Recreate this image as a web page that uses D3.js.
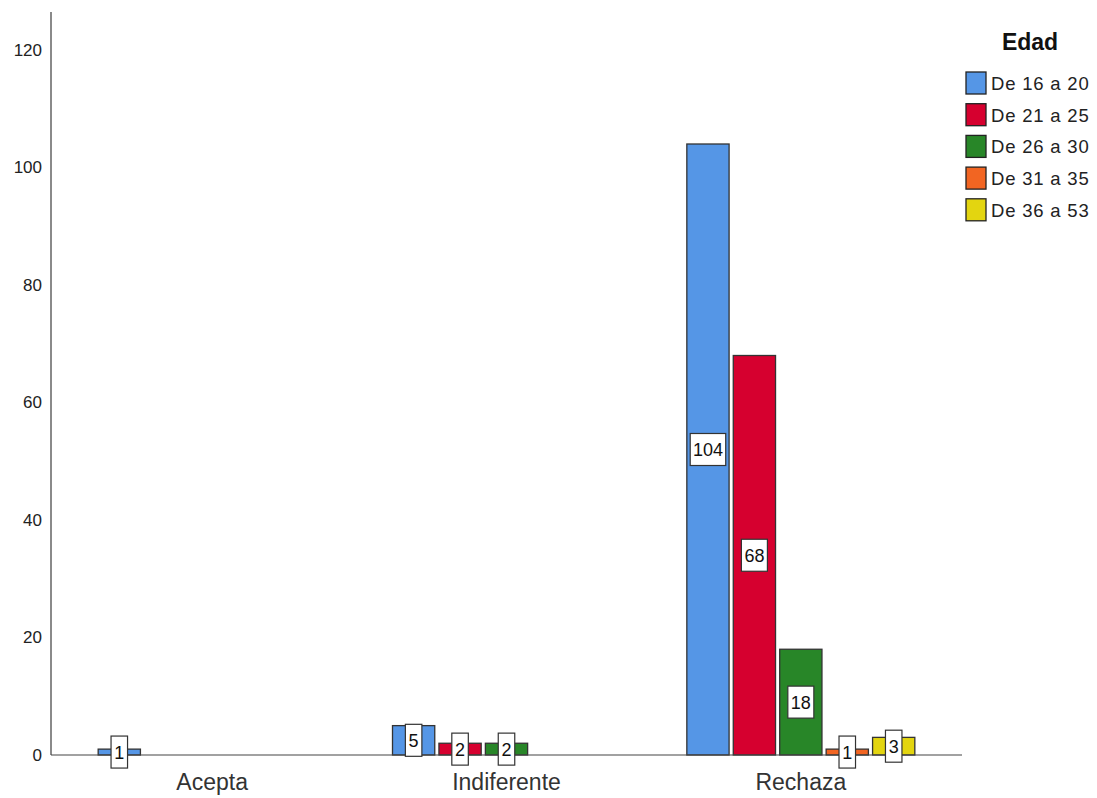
<!DOCTYPE html>
<html>
<head>
<meta charset="utf-8">
<script src="https://cdn.jsdelivr.net/npm/d3@7"></script>
<style>
  body { margin: 0; background: #fff; }
  svg { display: block; font-family: "Liberation Sans", Arial, sans-serif; }
</style>
</head>
<body>
<svg id="chart" width="1097" height="798"></svg>
<script>
const categories = ["Acepta", "Indiferente", "Rechaza"];
const series = ["De 16 a 20", "De 21 a 25", "De 26 a 30", "De 31 a 35", "De 36 a 53"];
const colors = ["#5596e6", "#d6002f", "#288628", "#f26522", "#e3d510"];
// values[series][category]; null = no bar
const s1620 = [1, 5, 104];
const s2125 = [null, 2, 68];
const s2630 = [null, 2, 18];
const s3135 = [null, null, 1];
const s3653 = [null, null, 3];
const values = [s1620, s2125, s2630, s3135, s3653];
const yTicks = [0, 20, 40, 60, 80, 100, 120];
const legendTitle = "Edad";

const svg = d3.select("#chart");
const x0 = 51, xEnd = 962, yBase = 755;

const y = d3.scaleLinear().domain([0, 120]).range([yBase, 50]);
const xCat = d3.scaleBand().domain(categories).range([65, 948]).padding(0);
const xSer = d3.scaleBand().domain(series).range([-114, 114]).paddingInner(0.09);

// y axis line
svg.append("line").attr("x1", x0).attr("x2", x0).attr("y1", 12).attr("y2", yBase)
  .attr("stroke", "#8a8a8a").attr("stroke-width", 2);

// y tick labels
const yAxis = d3.axisLeft(y).tickValues(yTicks).tickSize(0).tickPadding(8);
const ya = svg.append("g").attr("transform", `translate(${x0 - 1},0)`).call(yAxis);
ya.select(".domain").remove();
ya.selectAll("text").attr("font-size", 17).attr("fill", "#222")
  .attr("font-family", "'Liberation Sans', Arial, sans-serif");

// bars
const data = [];
series.forEach((s, i) => categories.forEach((c, j) => {
  const v = values[i][j];
  if (v != null) data.push({ s, c, v, i });
}));

const bars = svg.append("g");
bars.selectAll("rect").data(data).join("rect")
  .attr("x", d => xCat(d.c) + xCat.bandwidth() / 2 + xSer(d.s))
  .attr("width", xSer.bandwidth())
  .attr("y", d => y(d.v))
  .attr("height", d => yBase - y(d.v))
  .attr("fill", d => colors[d.i])
  .attr("stroke", "#333").attr("stroke-width", 1.3);

// x axis line
svg.append("line").attr("x1", x0).attr("x2", xEnd).attr("y1", yBase).attr("y2", yBase)
  .attr("stroke", "#444").attr("stroke-width", 1.2);

// value labels
const lab = svg.append("g");
data.forEach(d => {
  const cx = xCat(d.c) + xCat.bandwidth() / 2 + xSer(d.s) + xSer.bandwidth() / 2;
  const cy = (y(d.v) + yBase) / 2;
  const txt = String(d.v);
  const w = txt.length * 9.5 + 7;
  const h = 32;
  lab.append("rect").attr("x", cx - w / 2).attr("y", cy - h / 2).attr("width", w).attr("height", h)
    .attr("fill", "#fff").attr("stroke", "#333").attr("stroke-width", 1.2);
  lab.append("text").attr("x", cx).attr("y", cy + 6.5).attr("text-anchor", "middle")
    .attr("font-size", 18).attr("fill", "#111").text(txt);
});

// category labels
const xa = svg.append("g").attr("transform", `translate(0,${yBase})`)
  .call(d3.axisBottom(xCat).tickSize(0).tickPadding(19));
xa.select(".domain").remove();
xa.selectAll("text").attr("font-size", 23).attr("fill", "#333")
  .attr("font-family", "'Liberation Sans', Arial, sans-serif");

// legend
const lg = svg.append("g");
lg.append("text").attr("x", 1030).attr("y", 50).attr("text-anchor", "middle")
  .attr("font-size", 23).attr("font-weight", "bold").attr("fill", "#111").text(legendTitle);
series.forEach((s, i) => {
  const yy = 72 + i * 31.7;
  lg.append("rect").attr("x", 966).attr("y", yy).attr("width", 20).attr("height", 22)
    .attr("fill", colors[i]).attr("stroke", "#222").attr("stroke-width", 1.3);
  lg.append("text").attr("x", 991).attr("y", yy + 18).attr("font-size", 18.5)
    .attr("fill", "#222").attr("letter-spacing", 0.8).text(s);
});
</script>
</body>
</html>
